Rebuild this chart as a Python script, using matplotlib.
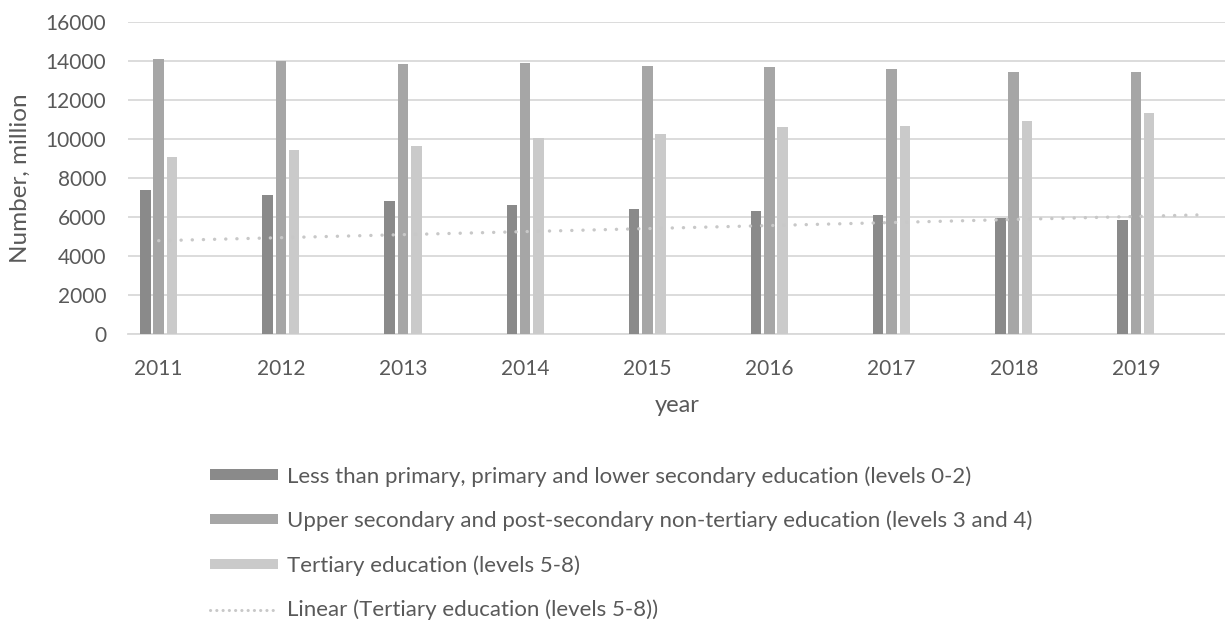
import matplotlib
matplotlib.use("Agg")
import matplotlib.pyplot as plt
from matplotlib.patches import Patch
from matplotlib.lines import Line2D
import numpy as np

plt.rcParams['font.family'] = ['Lato', 'DejaVu Sans']

years = ['2011', '2012', '2013', '2014', '2015', '2016', '2017', '2018', '2019']
lower_secondary = [7400, 7130, 6820, 6620, 6410, 6310, 6100, 5920, 5830]
upper_secondary = [14100, 14010, 13850, 13870, 13740, 13670, 13590, 13430, 13400]
tertiary = [9050, 9440, 9640, 10030, 10260, 10600, 10680, 10900, 11320]

series_names = [
    'Less than primary, primary and lower secondary education (levels 0-2)',
    'Upper secondary and post-secondary non-tertiary education (levels 3 and 4)',
    'Tertiary education (levels 5-8)',
]
trend_name = 'Linear (Tertiary education (levels 5-8))'
# trend line level at its start (first year) and at its end (half a period forward)
trend_span = [0.0, 8.5]
trend_values = [4780, 6100]

colors = ['#8a8a8a', '#a6a6a6', '#cacaca']
trend_color = '#c8c8c8'
text_color = '#595959'
grid_color = '#d9d9d9'

W, H = 1225, 620
fig = plt.figure(figsize=(W / 100, H / 100), dpi=100)
ax = fig.add_axes([128.3 / W, 1 - 334 / H, 1 - 128.3 / W, (334 - 21.7) / H])

x = np.arange(len(years))
step = 0.109
width = 0.086
for i, (vals, c) in enumerate(zip([lower_secondary, upper_secondary, tertiary], colors)):
    ax.bar(x + (i - 1) * step, vals, width=width, color=c, zorder=3)

ax.plot(trend_span, trend_values, color=trend_color, lw=2.4, linestyle=(0, (0.05, 3.3)),
        dash_capstyle='round', zorder=4)

ax.set_ylim(0, 16000)
ax.set_yticks(np.arange(0, 16001, 2000))
ax.set_xlim(-0.249, 8.73)
ax.set_xticks(x)
ax.set_xticklabels(years)
ax.yaxis.grid(True, color=grid_color, lw=1.3, zorder=0)
ax.set_axisbelow(True)
for s in ['top', 'right', 'left']:
    ax.spines[s].set_visible(False)
ax.spines['bottom'].set_color(grid_color)
ax.spines['bottom'].set_linewidth(1.3)
ax.tick_params(axis='both', length=0, labelsize=15, labelcolor=text_color)
ax.tick_params(axis='y', pad=16)
ax.tick_params(axis='x', pad=18)

fig.text(20 / W, 1 - 178 / H, 'Number, million', rotation=90, fontsize=17.5,
         color=text_color, ha='center', va='center')
fig.text(677 / W, 1 - 405 / H, 'year', fontsize=17, color=text_color,
         ha='center', va='center')

handles = [Patch(facecolor=c, edgecolor='none') for c in colors]
handles.append(Line2D([0], [0], color=trend_color, lw=2.2, linestyle=(0, (0.05, 2.0)),
                      dash_capstyle='round'))
fig.legend(handles, series_names + [trend_name], loc='upper left',
           bbox_to_anchor=(190 / W, 1 - 446 / H), frameon=False,
           fontsize=16, labelcolor=text_color, handlelength=3.06,
           handleheight=0.35, handletextpad=0.4, labelspacing=1.08)

fig.savefig('out.png', dpi=100, facecolor='white')
